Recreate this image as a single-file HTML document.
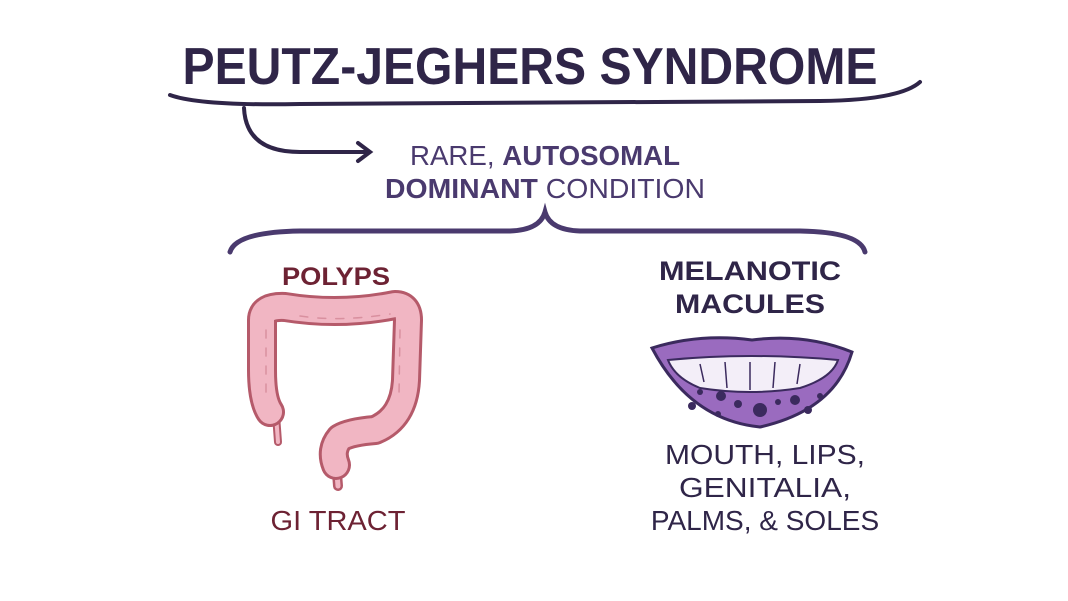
<!DOCTYPE html>
<html><head><meta charset="utf-8"><style>
html,body{margin:0;padding:0;background:#fff;}
svg{display:block}
text{font-family:"Liberation Sans",sans-serif;}
</style></head><body>
<svg width="1068" height="601" viewBox="0 0 1068 601" xmlns="http://www.w3.org/2000/svg">
<rect width="1068" height="601" fill="#fff"/>
<text x="530" y="84" font-size="52" font-weight="bold" fill="#2f2548" text-anchor="middle" textLength="695" lengthAdjust="spacingAndGlyphs">PEUTZ-JEGHERS SYNDROME</text>
<g fill="none" stroke="#2f2548" stroke-width="4" stroke-linecap="round">
<path d="M170 95 Q200 106 300 104 L820 101 Q900 100 920 82"/>
<path d="M244 108 Q246 152 300 152 L368 152"/>
<path d="M358 143 L370 152 L358 161"/>
</g>
<g fill="#4a3a6e" font-size="28">
<text x="545" y="165" text-anchor="middle" textLength="270" lengthAdjust="spacingAndGlyphs">RARE, <tspan font-weight="bold">AUTOSOMAL</tspan></text>
<text x="545" y="198" text-anchor="middle" textLength="320" lengthAdjust="spacingAndGlyphs"><tspan font-weight="bold">DOMINANT</tspan> CONDITION</text>
</g>
<path d="M230 252 Q236 232 300 231 L510 231 Q540 230 545 212 Q550 230 580 231 L800 231 Q860 232 865 252" fill="none" stroke="#4a3a6e" stroke-width="5" stroke-linecap="round"/>
<text x="336" y="285" font-size="25" font-weight="bold" fill="#6d2233" text-anchor="middle" textLength="108" lengthAdjust="spacingAndGlyphs">POLYPS</text>
<g fill="#2f2548" font-size="27" font-weight="bold" text-anchor="middle">
<text x="750" y="280" textLength="182" lengthAdjust="spacingAndGlyphs">MELANOTIC</text>
<text x="750" y="313" textLength="150" lengthAdjust="spacingAndGlyphs">MACULES</text>
</g>
<!-- colon -->
<g fill="none" stroke-linecap="round" stroke-linejoin="round">
<path d="M278 442 L276 415" stroke="#b55a6a" stroke-width="8"/>
<path d="M278 442 L276 415" stroke="#f1b6c3" stroke-width="4"/>
<path d="M338 486 L336 460" stroke="#b55a6a" stroke-width="10"/>
<path d="M338 486 L336 460" stroke="#f1b6c3" stroke-width="5"/>
<path d="M270 412 Q262 400 262 370 L262 320 Q262 306 285 307 Q340 316 395 305 Q408 305 408 320 L406 380 Q404 418 375 430 Q350 432 340 438 Q330 450 336 465" stroke="#b55a6a" stroke-width="30"/>
<path d="M270 412 Q262 400 262 370 L262 320 Q262 306 285 307 Q340 316 395 305 Q408 305 408 320 L406 380 Q404 418 375 430 Q350 432 340 438 Q330 450 336 465" stroke="#f1b6c3" stroke-width="24"/>
<path d="M266 330 L266 395 M300 316 Q340 322 390 314 M400 330 L399 395" stroke="#d9909f" stroke-width="1.5" stroke-dasharray="8 10"/>
</g>
<!-- lips -->
<path d="M652 348 Q700 333 752 340 Q805 333 852 352 Q835 410 760 427 Q690 420 652 348 Z" fill="#9a6bbf" stroke="#3b2a5e" stroke-width="3"/>
<path d="M668 360 Q750 352 838 360 Q832 378 800 388 Q750 396 700 388 Q675 378 668 360 Z" fill="#f3eef8" stroke="#3b2a5e" stroke-width="2"/>
<path d="M700 364 L704 382 M725 362 L727 388 M750 362 L750 390 M775 362 L773 388 M800 364 L797 384" stroke="#3b2a5e" stroke-width="1.5"/>
<g fill="#3b2a5e">
<circle cx="721" cy="396" r="5"/><circle cx="738" cy="404" r="4"/><circle cx="760" cy="410" r="7"/>
<circle cx="795" cy="400" r="5"/><circle cx="692" cy="406" r="4"/><circle cx="808" cy="410" r="4"/>
<circle cx="778" cy="402" r="3"/><circle cx="700" cy="392" r="3"/><circle cx="718" cy="414" r="3"/><circle cx="820" cy="396" r="3"/>
</g>
<text x="338" y="530" font-size="28" fill="#6d2233" text-anchor="middle" textLength="135" lengthAdjust="spacingAndGlyphs">GI TRACT</text>
<g fill="#2f2548" font-size="28" text-anchor="middle">
<text x="765" y="464" textLength="200" lengthAdjust="spacingAndGlyphs">MOUTH, LIPS,</text>
<text x="765" y="497" textLength="172" lengthAdjust="spacingAndGlyphs">GENITALIA,</text>
<text x="765" y="530">PALMS, &amp; SOLES</text>
</g>
</svg>
</body></html>
